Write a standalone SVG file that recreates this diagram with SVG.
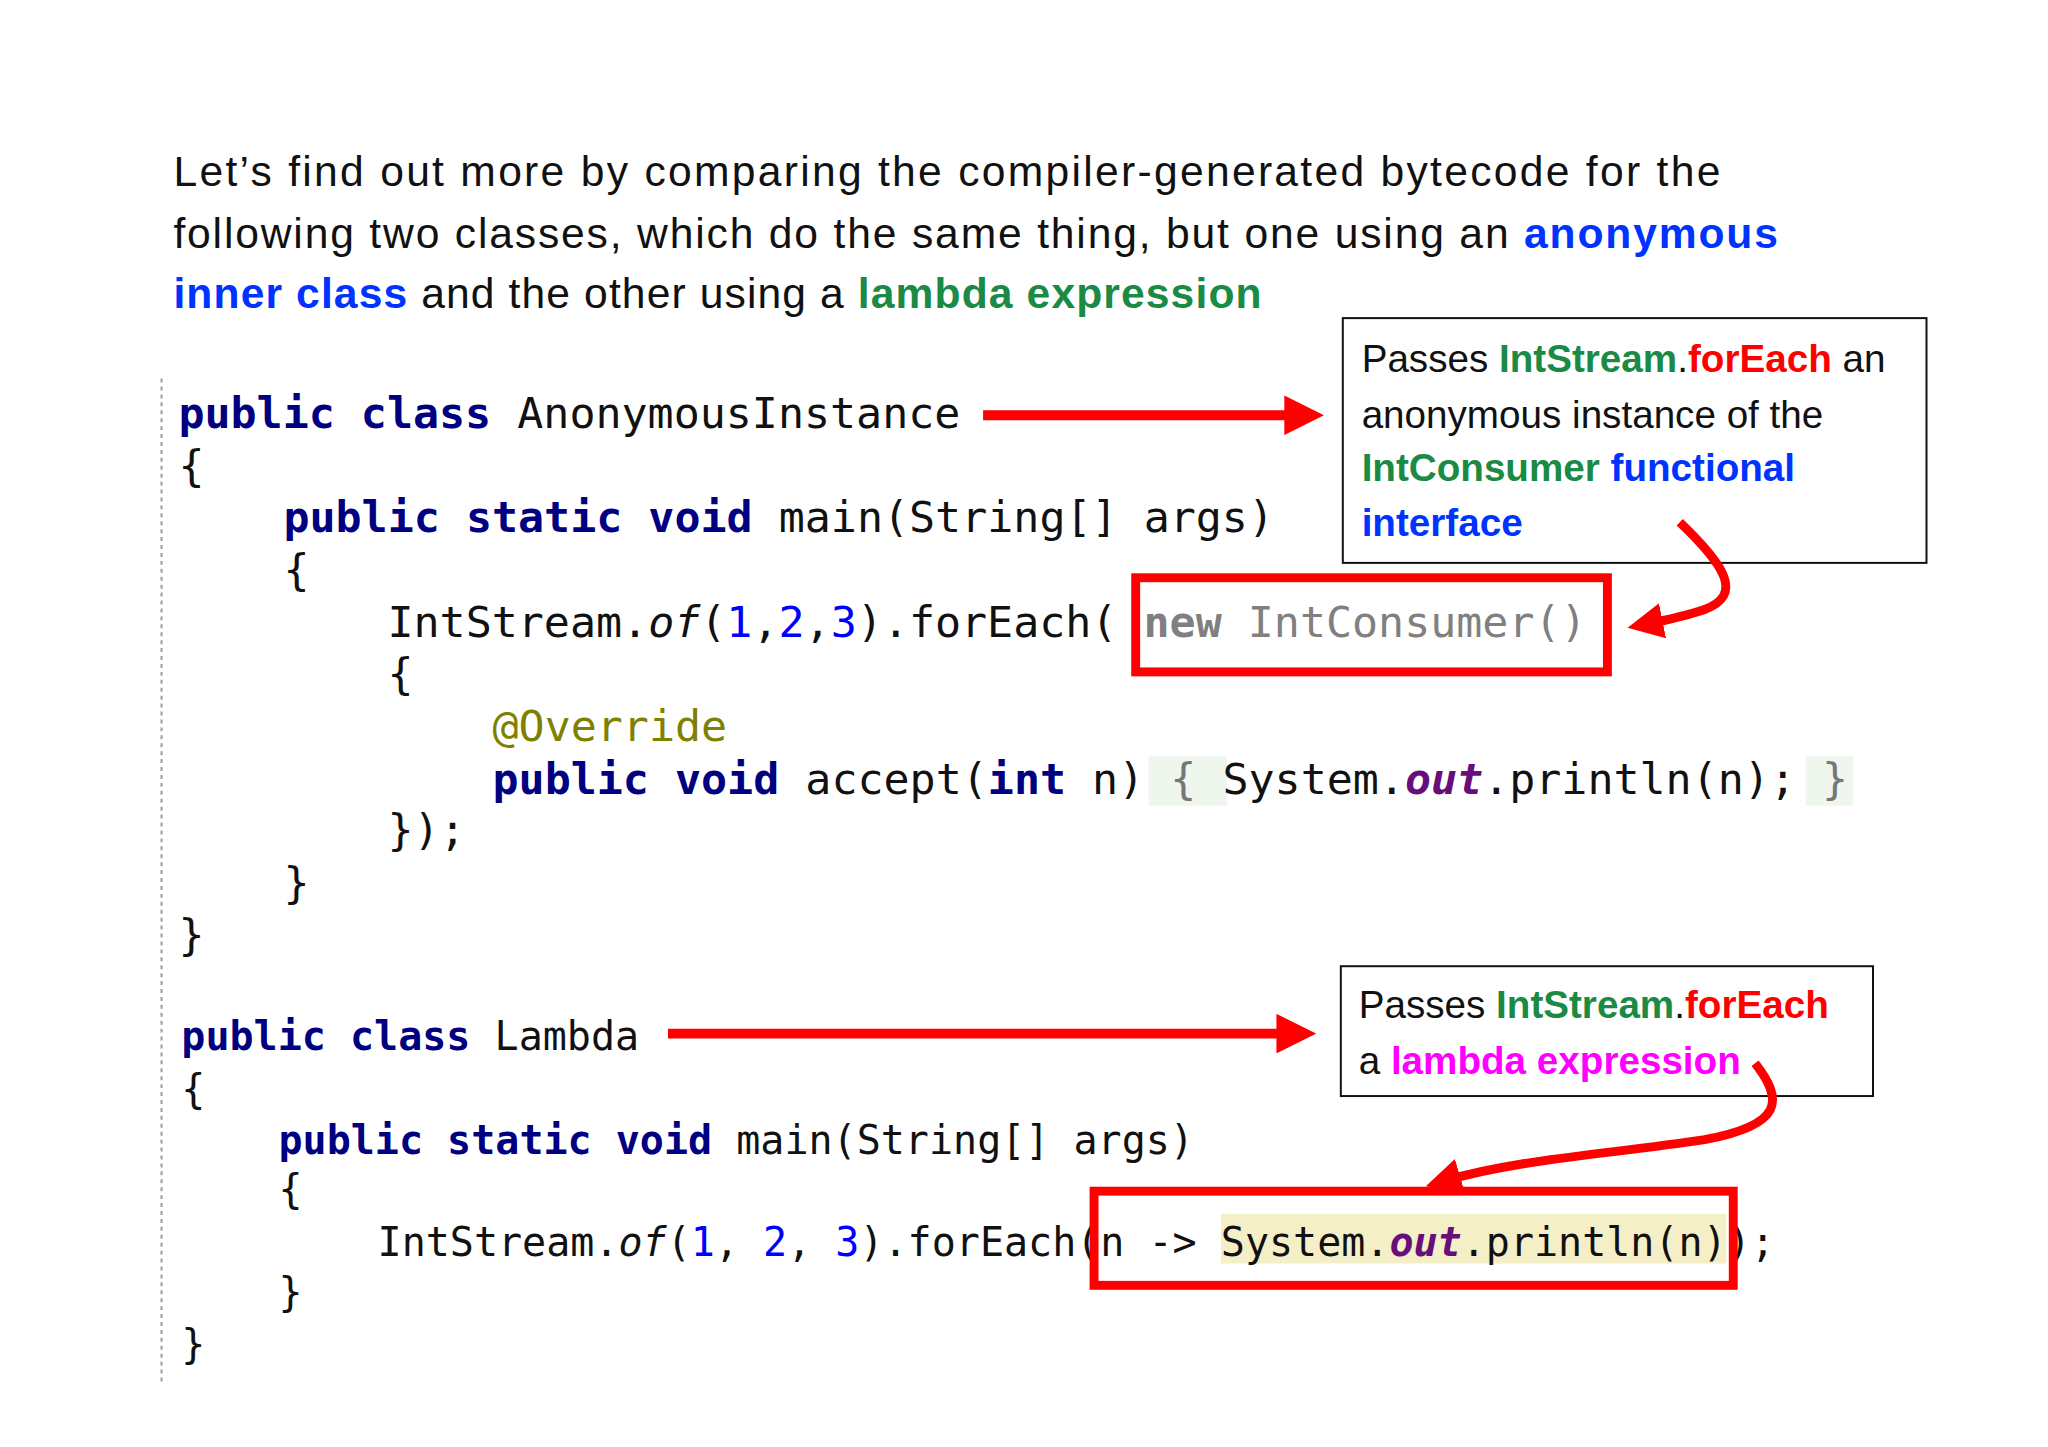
<svg xmlns="http://www.w3.org/2000/svg" width="2048" height="1447" viewBox="0 0 2048 1447">
<style>
.t{font-family:"Liberation Sans",Arial,sans-serif;font-size:43px;fill:#111}
.b{font-size:39px;font-family:"Liberation Sans",Arial,sans-serif;fill:#111}
.c{font-family:"DejaVu Sans Mono",monospace;font-size:43.7px;fill:#111}
.c2{font-family:"DejaVu Sans Mono",monospace;font-size:40.4px;fill:#111}
.k{fill:#000080;font-weight:bold}
.n{fill:#0000ff}
.o{fill:#660e7a;font-weight:bold;font-style:italic}
.i{font-style:italic}
.g{fill:#1a8a45;font-weight:bold}
.bl{fill:#0033ff;font-weight:bold}
.r{fill:#ff0000;font-weight:bold}
.m{fill:#ff00ff;font-weight:bold}
.red{stroke:#ff0000;fill:none}
</style>
<defs>
<marker id="ah" markerWidth="4" markerHeight="4" refX="2" refY="2" orient="auto" markerUnits="strokeWidth"><path d="M0,0 L4,2 L0,4 z" fill="#ff0000"/></marker>
</defs>
<rect width="2048" height="1447" fill="#fff"/>
<g transform="scale(0.991)">
<g id="title">
<text class="t" x="175" y="188" textLength="1561">Let’s find out more by comparing the compiler-generated bytecode for the</text>
<text class="t" x="175" y="250" textLength="1619">following two classes, which do the same thing, but one using an <tspan class="bl">anonymous</tspan></text>
<text class="t" x="175" y="311" textLength="1098"><tspan class="bl">inner class</tspan> and the other using a <tspan class="g">lambda expression</tspan></text>
</g>
<line x1="163" y1="382" x2="163" y2="1396" stroke="#999" stroke-width="2" stroke-dasharray="4,4"/>
<g id="code1" xml:space="preserve">
<rect x="1159" y="763" width="79" height="50" fill="#eef6ee"/>
<rect x="1822" y="763" width="48" height="50" fill="#eef6ee"/>
<text class="c" x="180" y="432"><tspan class="k">public class</tspan> AnonymousInstance</text>
<text class="c" x="180" y="485">{</text>
<text class="c" x="286" y="537"><tspan class="k">public static void</tspan> main(String[] args)</text>
<text class="c" x="286" y="590">{</text>
<text class="c" x="391" y="643">IntStream.<tspan class="i">of</tspan>(<tspan class="n">1</tspan>,<tspan class="n">2</tspan>,<tspan class="n">3</tspan>).forEach( <tspan fill="#808080" font-weight="bold">new</tspan><tspan fill="#808080"> IntConsumer()</tspan></text>
<text class="c" x="391" y="695">{</text>
<text class="c" x="497" y="748"><tspan fill="#808000">@Override</tspan></text>
<text class="c" x="497" y="801"><tspan class="k">public void</tspan> accept(<tspan class="k">int</tspan> n) <tspan fill="#777">{</tspan> System.<tspan class="o">out</tspan>.println(n); <tspan fill="#777">}</tspan></text>
<text class="c" x="391" y="853">});</text>
<text class="c" x="286" y="906">}</text>
<text class="c" x="180" y="959">}</text>
</g>
<g id="code2" xml:space="preserve">
<rect x="1232" y="1225" width="510" height="50" fill="#f5efc8"/>
<text class="c2" x="183" y="1060"><tspan class="k">public class</tspan> Lambda</text>
<text class="c2" x="183" y="1113">{</text>
<text class="c2" x="281" y="1164"><tspan class="k">public static void</tspan> main(String[] args)</text>
<text class="c2" x="281" y="1214">{</text>
<text class="c2" x="381" y="1267">IntStream.<tspan class="i">of</tspan>(<tspan class="n">1</tspan>, <tspan class="n">2</tspan>, <tspan class="n">3</tspan>).forEach(n -&gt; System.<tspan class="o">out</tspan>.println(n));</text>
<text class="c2" x="281" y="1318">}</text>
<text class="c2" x="183" y="1370">}</text>
</g>
<g id="box1">
<rect x="1355" y="321" width="589" height="247" fill="#fff" stroke="#111" stroke-width="2"/>
<text class="b" x="1374" y="375">Passes <tspan class="g" fill="#00a050">IntStream</tspan>.<tspan class="r">forEach</tspan> an</text>
<text class="b" x="1374" y="432">anonymous instance of the</text>
<text class="b" x="1374" y="485"><tspan class="g">IntConsumer</tspan> <tspan class="bl">functional</tspan></text>
<text class="b" x="1374" y="541"><tspan class="bl">interface</tspan></text>
</g>
<g id="box2">
<rect x="1353" y="975" width="537" height="131" fill="#fff" stroke="#111" stroke-width="2"/>
<text class="b" x="1371" y="1027">Passes <tspan class="g">IntStream</tspan>.<tspan class="r">forEach</tspan></text>
<text class="b" x="1371" y="1084">a <tspan class="m">lambda expression</tspan></text>
</g>
<g id="connectors">
<rect class="red" x="1146" y="583" width="476" height="95" stroke-width="9"/>
<rect class="red" x="1104" y="1202" width="645" height="95" stroke-width="9"/>
<line class="red" x1="992" y1="419" x2="1316" y2="419" stroke-width="10" marker-end="url(#ah)"/>
<line class="red" x1="674" y1="1043" x2="1308" y2="1043" stroke-width="10" marker-end="url(#ah)"/>
<path class="red" d="M1695,527 C1740,570 1760,600 1720,615 C1700,622 1680,626 1660,630" stroke-width="9" marker-end="url(#ah)"/>
<path class="red" d="M1771,1073 C1800,1110 1800,1135 1720,1150 C1620,1165 1530,1170 1456,1192" stroke-width="9" marker-end="url(#ah)"/>
</g>
</g>
</svg>
